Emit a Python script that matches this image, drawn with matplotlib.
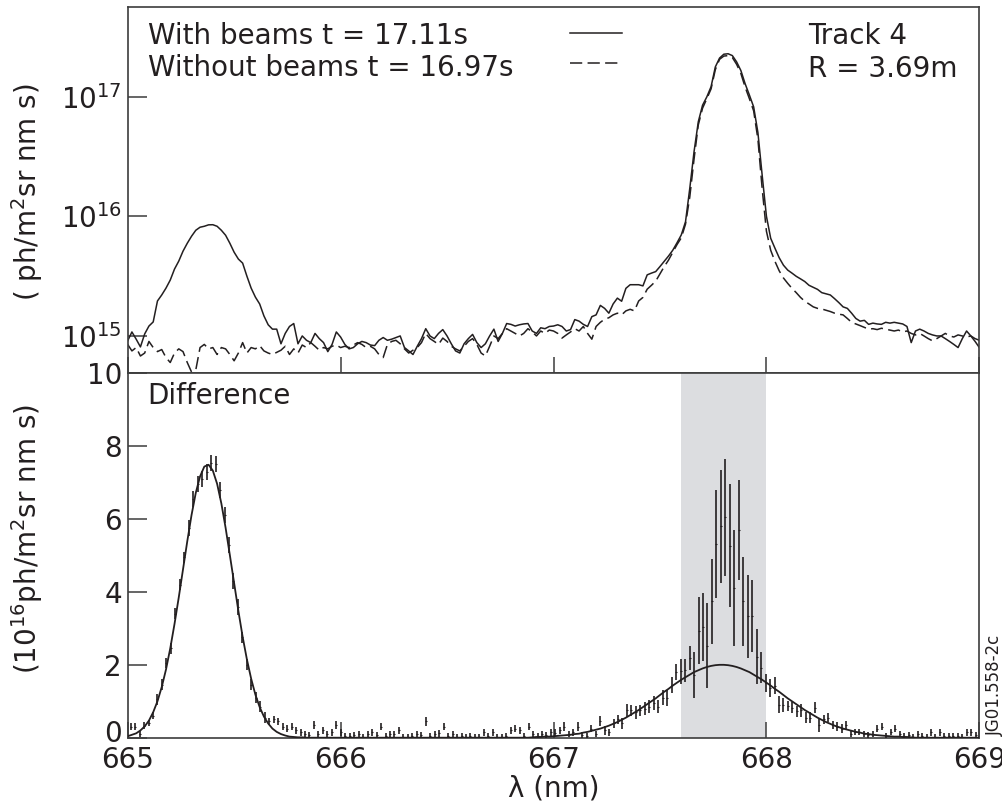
import numpy as np
import matplotlib
matplotlib.use("Agg")
import matplotlib.pyplot as plt
from matplotlib.transforms import ScaledTranslation

plt.rcParams['font.family'] = ['DejaVu Sans']
plt.rcParams['mathtext.fontset'] = 'dejavusans'

INK = '#231f20'
AXC = '#3c3c3c'

# wavelength grid of the raw spectra (nm)
wl = np.round(np.linspace(665.0, 669.0, 201), 2)

# top panel, units of 1e15 ph/m2 sr nm s
with_beams = [
    0.91, 1.08, 0.94, 0.81, 1.04, 1.21, 1.31, 1.96, 2.20, 2.51,
    2.93, 3.62, 4.22, 5.11, 5.95, 6.81, 7.64, 8.10, 8.25, 8.48,
    8.50, 8.25, 7.64, 6.94, 5.95, 5.01, 4.39, 4.06, 3.16, 2.51,
    2.11, 1.85, 1.47, 1.24, 1.14, 1.14, 0.86, 1.05, 1.20, 1.27,
    0.86, 1.00, 0.92, 0.88, 1.05, 0.95, 0.88, 0.74, 0.85, 1.08,
    0.98,
    0.85, 0.78, 0.80, 0.86, 0.90, 0.88, 0.84, 0.83, 0.92, 0.97,
    0.92, 0.94, 0.97, 1.00, 0.80, 0.75, 0.70, 0.82, 0.95, 1.15,
    1.00, 0.95, 1.05, 1.13, 1.00, 0.86, 0.75, 0.72, 0.86, 0.95,
    1.03, 0.88, 0.80, 0.86, 1.00, 1.14, 0.90, 1.05, 1.27, 1.25,
    1.21, 1.24, 1.26, 1.27, 1.10, 1.05, 1.17, 1.15, 1.20, 1.21,
    1.24, 1.20, 1.10, 1.13, 1.37, 1.33, 1.25, 1.20, 1.45, 1.50,
    1.80, 1.70, 1.55, 1.85, 2.07, 1.95, 2.50, 2.68, 2.68, 2.68,
    2.62, 3.24, 3.35, 3.45, 3.80, 4.20, 4.65, 5.20, 6.00, 6.98,
    9.0, 17.1, 34.6, 61.6, 84.7, 99.4, 121, 177, 210, 226,
    228, 220, 195, 165, 128, 103, 82, 50, 22, 10.0,
    6.55, 5.41, 4.50, 3.90, 3.55, 3.35, 3.15, 3.00, 2.85, 2.65,
    2.55, 2.45, 2.30, 2.25, 2.20, 2.05, 1.90, 1.75, 1.70, 1.55,
    1.40, 1.33, 1.35, 1.25, 1.28, 1.26, 1.25, 1.30, 1.28, 1.30,
    1.28, 1.26, 1.20, 0.88, 1.10, 1.14, 1.10, 1.05, 1.02, 1.00,
    1.00, 0.95, 0.90, 0.85, 0.80, 0.95, 1.10, 1.00, 0.90, 0.80,
]
without_beams = [
    0.85, 0.75, 0.80, 0.68, 0.72, 0.90, 0.80, 0.74, 0.77, 0.66,
    0.60, 0.72, 0.78, 0.74, 0.60, 0.50, 0.52, 0.80, 0.85, 0.78,
    0.80, 0.70, 0.80, 0.78, 0.70, 0.62, 0.72, 0.88, 0.72, 0.80,
    0.78, 0.83, 0.75, 0.72, 0.70, 0.73, 0.76, 0.82, 0.70, 0.78,
    0.72, 0.84, 0.80, 0.88, 0.82, 0.76, 0.80, 0.78, 0.82, 0.84,
    0.80,
    0.82, 0.80, 0.84, 0.88, 0.85, 0.80, 0.82, 0.78, 0.70, 0.66,
    0.85, 0.90, 0.92, 0.86, 0.78, 0.72, 0.76, 0.80, 0.88, 1.05,
    0.95, 0.90, 0.85, 0.96, 0.90, 0.82, 0.78, 0.75, 0.82, 0.90,
    0.95, 0.85, 0.72, 0.68, 0.82, 1.00, 0.95, 1.05, 1.15, 1.10,
    1.05, 1.00, 1.05, 1.15, 1.08, 1.00, 1.10, 1.05, 1.12, 1.10,
    1.05, 0.96, 1.02, 1.08, 1.15, 1.10, 1.20, 1.05, 0.94, 1.20,
    1.30, 1.38, 1.42, 1.50, 1.55, 1.50, 1.62, 1.67, 1.62, 1.96,
    2.10, 2.46, 2.65, 2.87, 3.30, 3.80, 4.30, 5.00, 5.80, 6.60,
    8.6, 14.5, 30, 58, 80, 96, 116, 168, 205, 218,
    220, 212, 186, 156, 120, 96, 76, 44, 17, 7.5,
    5.2, 4.2, 3.50, 3.05, 2.75, 2.50, 2.30, 2.10, 1.95, 1.85,
    1.75, 1.70, 1.68, 1.64, 1.60, 1.55, 1.52, 1.50, 1.40, 1.30,
    1.26, 1.22, 1.18, 1.14, 1.15, 1.13, 1.16, 1.14, 1.12, 1.10,
    1.12, 1.08, 1.10, 1.05, 1.02, 1.05, 1.00, 0.95, 0.91, 0.95,
    1.00, 1.05, 1.00, 0.98, 1.02, 1.00, 0.98, 1.00, 0.95, 0.92,
]

# fitted gaussians on the wl grid, units of 1e16
fit = [
    0.04, 0.08, 0.12, 0.20, 0.31, 0.47, 0.70, 1.00, 1.39, 1.87,
    2.45, 3.12, 3.85, 4.63, 5.39, 6.11, 6.72, 7.17, 7.44, 7.49,
    7.33, 6.97, 6.43, 5.76, 5.01, 4.24, 3.48, 2.77, 2.15, 1.62,
    1.18, 0.84, 0.58, 0.39, 0.25, 0.16, 0.10, 0.06, 0.03, 0.02,
    0.01, 0.01, 0, 0, 0, 0, 0, 0, 0, 0,
    0, 0, 0, 0, 0, 0, 0, 0, 0, 0,
    0, 0, 0, 0, 0, 0, 0, 0, 0, 0,
    0, 0, 0, 0, 0, 0, 0, 0, 0, 0,
    0, 0, 0, 0, 0, 0, 0, 0, 0, 0,
    0, 0, 0, 0, 0, 0.01, 0.02, 0.02, 0.03, 0.03,
    0.04, 0.05, 0.06, 0.07, 0.08, 0.10, 0.11, 0.14, 0.16, 0.19,
    0.22, 0.25, 0.29, 0.33, 0.38, 0.43, 0.49, 0.55, 0.62, 0.69,
    0.76, 0.84, 0.92, 1.00, 1.08, 1.17, 1.26, 1.34, 1.43, 1.51,
    1.59, 1.66, 1.73, 1.80, 1.85, 1.90, 1.94, 1.97, 1.99, 2.00,
    2.00, 1.99, 1.97, 1.94, 1.90, 1.85, 1.80, 1.73, 1.66, 1.59,
    1.51, 1.43, 1.34, 1.26, 1.17, 1.08, 1.00, 0.92, 0.84, 0.76,
    0.69, 0.62, 0.55, 0.49, 0.43, 0.38, 0.33, 0.29, 0.25, 0.22,
    0.19, 0.16, 0.14, 0.11, 0.10, 0.08, 0.07, 0.06, 0.05, 0.04,
    0.03, 0.03, 0.02, 0.02, 0.01, 0, 0, 0, 0, 0,
    0, 0, 0, 0, 0, 0, 0, 0, 0, 0, 0,
]

# difference spectrum (with - without), units of 1e16
diff_wl = np.round(665.014 + 0.021 * np.arange(190), 3)
diff = [
    0.30, 0.30, 0.10, 0.33, 0.40, 0.60, 1.05, 1.45, 2.05, 2.45,
    3.40, 4.20, 4.95, 5.75, 6.55, 6.95, 7.10, 7.30, 7.55, 7.50,
    6.80, 6.10, 5.30, 4.30, 3.60, 2.75, 2.00, 1.45, 1.10, 0.85,
    0.55, 0.45, 0.50, 0.45, 0.30, 0.25, 0.30, 0.20, 0.15, 0.10,
    0.08, 0.35, 0.10, 0.20, 0.10, 0.15, 0.35, 0.15, 0.05, 0.05,
    0.08, 0.10, 0.03, 0.10, 0.15, 0.08, 0.30, 0.05, 0.10, 0.10,
    0.20, 0.03, 0.02, 0.05, 0.10, 0.08, 0.45, 0.05, 0.10, 0.12,
    0.30, 0.05, 0.10, 0.02, 0.04, 0.03, 0.05, 0.03, 0.02, 0.15,
    0.05, 0.15, 0.03, 0.02, 0.05, 0.20, 0.25, 0.20, 0.05, 0.30,
    0.10, 0.05, 0.10, 0.08, 0.15, 0.14, 0.20, 0.30, 0.10, 0.15,
    0.30, 0.08, 0.05, 0.25, 0.10, 0.45, 0.20, 0.15, 0.40, 0.50,
    0.40, 0.75, 0.75, 0.70, 0.75, 0.80, 0.85, 0.95, 0.85, 1.10,
    1.10, 1.45, 1.80, 1.82, 1.85, 2.19, 1.72, 2.93, 3.04, 2.53,
    3.74, 5.32, 5.80, 6.05, 5.27, 4.11, 5.69, 3.74, 3.33, 3.33,
    2.22, 1.92, 1.50, 1.37, 1.43, 0.91, 0.90, 0.87, 0.82, 0.73,
    0.75, 0.55, 0.55, 0.82, 0.35, 0.50, 0.55, 0.35, 0.30, 0.25,
    0.35, 0.10, 0.15, 0.15, 0.10, 0.07, 0.10, 0.25, 0.30, 0.05,
    0.15, 0.25, 0.10, 0.05, 0.07, 0.03, 0.10, 0.05, 0.03, 0.15,
    0.03, 0.15, 0.05, 0.06, 0.06, 0.04, 0.03, 0.15, 0.15, 0.07,
]
diff_err = [
    0.09, 0.09, 0.09, 0.09, 0.09, 0.10, 0.15, 0.15, 0.15, 0.15,
    0.15, 0.15, 0.15, 0.22, 0.22, 0.22, 0.22, 0.22, 0.22, 0.22,
    0.22, 0.22, 0.22, 0.22, 0.22, 0.15, 0.15, 0.15, 0.15, 0.15,
    0.15, 0.10, 0.10, 0.10, 0.09, 0.09, 0.09, 0.09, 0.09, 0.09,
    0.08, 0.10, 0.08, 0.09, 0.08, 0.09, 0.12, 0.09, 0.08, 0.08,
    0.08, 0.09, 0.08, 0.09, 0.09, 0.08, 0.10, 0.08, 0.09, 0.09,
    0.09, 0.08, 0.08, 0.08, 0.09, 0.08, 0.12, 0.08, 0.09, 0.09,
    0.10, 0.08, 0.09, 0.08, 0.08, 0.08, 0.08, 0.08, 0.08, 0.09,
    0.08, 0.09, 0.08, 0.08, 0.08, 0.10, 0.10, 0.09, 0.08, 0.10,
    0.09, 0.08, 0.09, 0.08, 0.09, 0.09, 0.10, 0.12, 0.08, 0.09,
    0.12, 0.08, 0.08, 0.10, 0.08, 0.14, 0.12, 0.10, 0.12, 0.12,
    0.15, 0.18, 0.16, 0.18, 0.16, 0.18, 0.18, 0.20, 0.18, 0.20,
    0.22, 0.22, 0.22, 0.35, 0.32, 0.32, 0.63, 0.92, 0.94, 1.16,
    1.16, 1.48, 1.55, 1.60, 1.69, 1.58, 1.37, 1.21, 1.13, 0.99,
    0.75, 0.42, 0.25, 0.25, 0.24, 0.23, 0.20, 0.15, 0.15, 0.15,
    0.17, 0.15, 0.15, 0.15, 0.18, 0.12, 0.12, 0.12, 0.12, 0.13,
    0.12, 0.08, 0.08, 0.08, 0.08, 0.08, 0.08, 0.09, 0.09, 0.08,
    0.08, 0.09, 0.08, 0.08, 0.08, 0.08, 0.08, 0.08, 0.08, 0.09,
    0.08, 0.09, 0.08, 0.08, 0.08, 0.08, 0.08, 0.09, 0.09, 0.08,
]

top_yticks = [1e15, 1e16, 1e17]
top_yticklabels = ['10$^{15}$', '10$^{16}$', '10$^{17}$']
xticks = [665, 666, 667, 668, 669]
bottom_yticks = [0, 2, 4, 6, 8, 10]
shade_lo, shade_hi = 667.6, 668.0

fig = plt.figure(figsize=(10.02, 8.08), dpi=100)
ax1 = fig.add_axes([0.1274, 0.538, 0.850, 0.4537])
ax2 = fig.add_axes([0.1274, 0.087, 0.850, 0.451])

# ---- top: raw spectra
dash_line, = ax1.plot(wl, np.array(without_beams) * 1e15, color=INK, lw=1.1,
                      dashes=(8, 3.5))
solid_line, = ax1.plot(wl, np.array(with_beams) * 1e15, color=INK, lw=1.1)
ax1.set_yscale('log')
ax1.set_xlim(665, 669)
ax1.set_ylim(10 ** 14.688, 10 ** 17.751)
ax1.set_yticks(top_yticks, top_yticklabels)
ax1.yaxis.set_minor_locator(plt.NullLocator())
ax1.set_xticks(xticks)
ax1.tick_params(axis='x', labelbottom=False, direction='in', length=11.5,
                width=1.1, color=AXC)
ax1.tick_params(axis='y', direction='in', length=13.7, width=1.1, color=AXC,
                labelsize=20, labelcolor=INK, pad=4)
ax1.set_ylabel('( ph/m$^2$sr nm s)', fontsize=20, color=INK)
ax1.yaxis.set_label_coords(-0.097, 0.495)

ax1.text(0.0235, 0.898, 'With beams t = 17.11s', transform=ax1.transAxes,
         fontsize=20, color=INK, va='baseline')
ax1.text(0.0235, 0.812, 'Without beams t = 16.97s', transform=ax1.transAxes,
         fontsize=20, color=INK, va='baseline')
ax1.text(0.799, 0.898, 'Track 4', transform=ax1.transAxes,
         fontsize=20, color=INK, va='baseline')
ax1.text(0.799, 0.808, 'R = 3.69m', transform=ax1.transAxes,
         fontsize=20, color=INK, va='baseline')
ax1.legend([solid_line, dash_line], ['', ''], loc='upper left',
           bbox_to_anchor=(0.519, 0.963), frameon=False, fontsize=20,
           handlelength=1.87, handletextpad=0, borderpad=0, borderaxespad=0,
           labelspacing=0.08)

# ---- bottom: difference
ax2.axvspan(shade_lo, shade_hi, color='#dcdde0', lw=0, zorder=0)
ax2.plot(wl, fit, color=INK, lw=1.3, zorder=3)
ax2.errorbar(diff_wl, diff, yerr=diff_err, fmt='_', ms=2, mew=0.8,
             color=INK, ecolor=INK, elinewidth=1.2, capsize=0, zorder=4)
ax2.set_xlim(665, 669)
ax2.set_ylim(0, 10)
ax2.set_xticks(xticks)
ax2.set_yticks(bottom_yticks)
ax2.tick_params(axis='x', direction='in', length=11.5, width=1.1, color=AXC,
                labelsize=20, labelcolor=INK, pad=6)
ax2.tick_params(axis='y', direction='in', length=13.7, width=1.1, color=AXC,
                labelsize=20, labelcolor=INK, pad=4)
ax2.set_xlabel('λ (nm)', fontsize=20, color=INK, labelpad=0)
ax2.set_ylabel('(10$^{16}$ph/m$^2$sr nm s)', fontsize=20, color=INK)
ax2.yaxis.set_label_coords(-0.097, 0.545)
ax2.text(0.0235, 0.9166, 'Difference', transform=ax2.transAxes,
         fontsize=20, color=INK, va='baseline')

# the "0" sits a little higher than its tick, clear of "665"
zero_lbl = ax2.yaxis.get_major_ticks()[0].label1
zero_lbl.set_transform(zero_lbl.get_transform()
                       + ScaledTranslation(0, 5 / 72, fig.dpi_scale_trans))

for ax in (ax1, ax2):
    for sp in ax.spines.values():
        sp.set_color(AXC)
        sp.set_linewidth(1.2)

fig.text(995 / 1002, 1 - 685 / 808, 'JG01.558-2c', rotation=90, fontsize=12,
         ha='center', va='center', color=INK)

fig.savefig('out.png', dpi=100)
